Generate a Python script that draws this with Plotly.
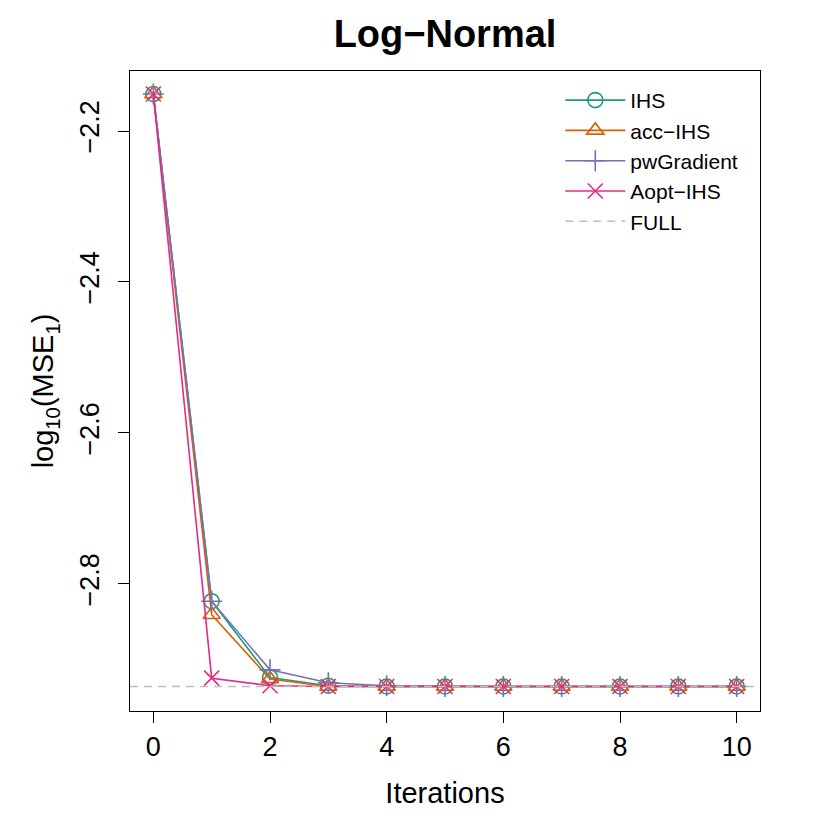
import plotly.graph_objects as go

# log10(MSE_1) per iteration
iterations = [0, 1, 2, 3, 4, 5, 6, 7, 8, 9, 10]
ihs = [-2.151, -2.823, -2.924, -2.935, -2.936, -2.936, -2.936, -2.936, -2.936, -2.936, -2.936]
acc_ihs = [-2.151, -2.841, -2.926, -2.936, -2.936, -2.936, -2.936, -2.936, -2.936, -2.936, -2.936]
pw_gradient = [-2.151, -2.823, -2.914, -2.931, -2.935, -2.936, -2.936, -2.936, -2.936, -2.936, -2.936]
aopt_ihs = [-2.151, -2.925, -2.935, -2.936, -2.936, -2.936, -2.936, -2.936, -2.936, -2.936, -2.936]
full_mse = -2.936

series = [
	("IHS", ihs, "#1B9E77", "circle-open"),
	("acc\u2212IHS", acc_ihs, "#D95F02", "triangle-up-open"),
	("pwGradient", pw_gradient, "#7570B3", "cross-thin-open"),
	("Aopt\u2212IHS", aopt_ihs, "#E7298A", "x-thin-open"),
]

fig = go.Figure()
for name, vals, col, sym in series:
	fig.add_trace(go.Scatter(
		x = iterations, y = vals, name = name, mode = 'lines+markers',
		line = dict(color = col, width = 1.6),
		marker = dict(symbol = sym, size = 15, color = col, line = dict(color = col, width = 1.6))))

# FULL reference level
fig.add_hline(y = full_mse, line = dict(color = '#BEBEBE', width = 1.6, dash = '8px,6px'))
fig.add_trace(go.Scatter(
	x = [None], y = [None], name = 'FULL', mode = 'lines',
	line = dict(color = '#BEBEBE', width = 1.6, dash = '8px,6px')))

axis_style = dict(
	showline = True, linecolor = 'black', linewidth = 1.2, mirror = True,
	ticks = 'outside', ticklen = 11, tickwidth = 1.2, tickcolor = 'black',
	showgrid = False, zeroline = False,
	tickfont = dict(size = 27, color = 'black'))

# page body adds an 8px offset, so margins are shifted to compensate
fig.update_layout(
	width = 830, height = 830,
	margin = dict(l = 122, r = 78, t = 63, b = 127),
	paper_bgcolor = 'white', plot_bgcolor = 'white',
	font = dict(family = 'Liberation Sans, Arial, sans-serif', color = 'black'),
	title = dict(text = '<b>Log\u2212Normal</b>', xref = 'paper', x = 0.5, xanchor = 'center',
		yref = 'container', y = 1 - 26 / 830, yanchor = 'middle', font = dict(size = 38)),
	showlegend = True,
	legend = dict(x = 0.683, y = 0.986, xanchor = 'left', yanchor = 'top',
		bgcolor = 'rgba(0,0,0,0)', font = dict(size = 21), tracegroupgap = 0,
		itemwidth = 60),
)
fig.update_xaxes(axis_style, range = [-0.4, 10.4], tickvals = [0, 2, 4, 6, 8, 10],
	title = dict(text = 'Iterations', font = dict(size = 29), standoff = 22))
fig.update_yaxes(axis_style, range = [-2.9685, -2.1205], tickvals = [-2.8, -2.6, -2.4, -2.2],
	tickangle = -90, ticklabelstandoff = 8,
	title = dict(text = 'log<sub>10</sub>(MSE<sub>1</sub>)', font = dict(size = 29), standoff = 12))

fig.write_html("out.html")
